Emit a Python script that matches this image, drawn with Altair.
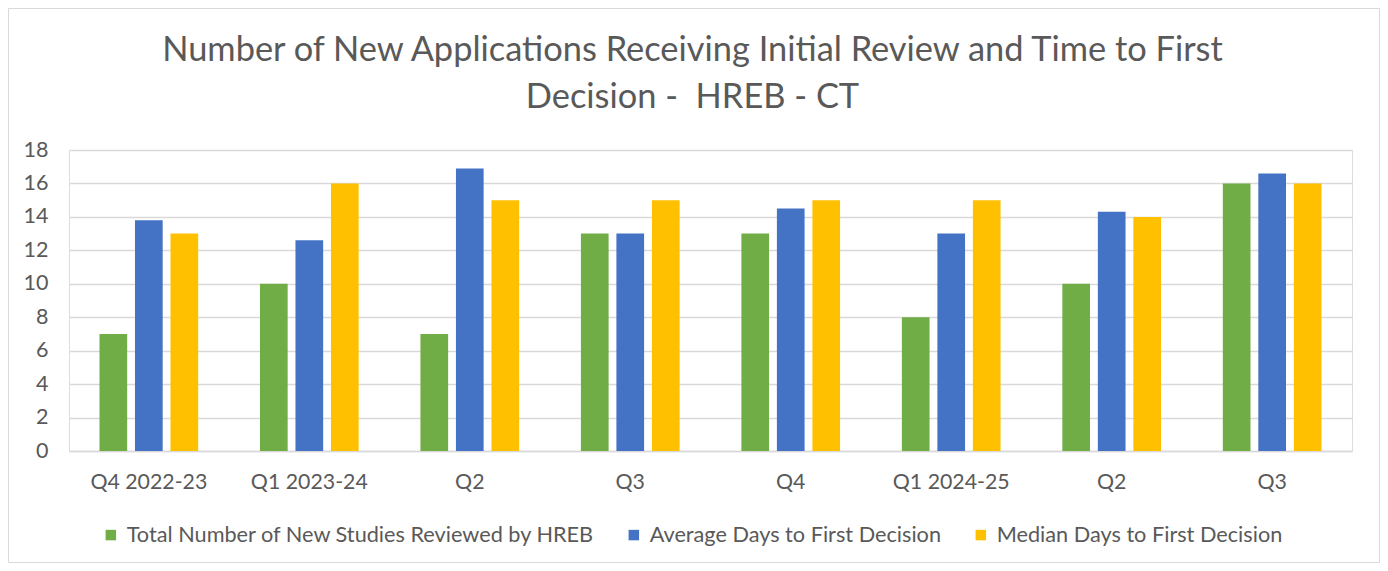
import altair as alt
import pandas as pd

categories = ["Q4 2022-23", "Q1 2023-24", "Q2", "Q3", "Q4", "Q1 2024-25", "Q2 ", "Q3 "]
series_names = [
    "Total Number of New Studies Reviewed by HREB",
    "Average Days to First Decision",
    "Median Days to First Decision",
]
total_reviewed = [7, 10, 7, 13, 13, 8, 10, 16]
average_days = [13.8, 12.6, 16.9, 13, 14.5, 13, 14.3, 16.6]
median_days = [13, 16, 15, 15, 15, 15, 14, 16]
colors = ["#70AD47", "#4472C4", "#FFC000"]
y_ticks = [0, 2, 4, 6, 8, 10, 12, 14, 16, 18]

rows = []
for s, vals in zip(series_names, [total_reviewed, average_days, median_days]):
    for c, v in zip(categories, vals):
        rows.append({"Quarter": c, "Series": s, "Value": v})
df = pd.DataFrame(rows)

FONT = "Lato"
GREY = "#595959"
W, H = 1283, 301

bars = alt.Chart(df).mark_bar().encode(
    x=alt.X("Quarter:N", sort=categories,
            scale=alt.Scale(paddingInner=0.385, paddingOuter=0.19),
            axis=alt.Axis(title=None, labelAngle=0, ticks=False, labelPadding=20,
                          domainColor="#d9d9d9", domainWidth=1.5,
                          labelFontSize=21.3, labelColor=GREY, labelFont=FONT,
                          labelExpr="trim(datum.label)")),
    xOffset=alt.XOffset("Series:N", sort=series_names,
                        scale=alt.Scale(paddingInner=0.22, paddingOuter=0)),
    y=alt.Y("Value:Q", scale=alt.Scale(domain=[0, 18], nice=False),
            axis=alt.Axis(title=None, values=y_ticks, ticks=False, domain=False,
                          labelPadding=21, gridColor="#d9d9d9", gridWidth=1.5,
                          labelFontSize=21.5, labelColor=GREY, labelFont=FONT)),
    color=alt.Color("Series:N", sort=series_names,
                    scale=alt.Scale(domain=series_names, range=colors),
                    legend=alt.Legend(title=None, orient="none", direction="horizontal",
                                      legendX=31, legendY=374, symbolType="square",
                                      symbolSize=110, symbolStrokeWidth=0,
                                      labelFontSize=21.7, labelColor=GREY, labelFont=FONT,
                                      labelOffset=5, columnPadding=28, labelLimit=600)),
)

border = alt.Chart(pd.DataFrame({"a": [0]})).mark_rect(
    fill=None, stroke="#d9d9d9", strokeWidth=1
).encode(x=alt.value(-60.5), x2=alt.value(W + 27.5), y=alt.value(-141.5), y2=alt.value(H + 111.5))

chart = alt.layer(border, bars).properties(
    width=W, height=H,
    autosize=alt.AutoSizeParams(type="none"),
    padding={"left": 61, "top": 142, "right": 28, "bottom": 112},
    title=alt.TitleParams(
        ["Number of New Applications Receiving Initial Review and Time to First",
         "Decision -\u00a0 HREB - CT"],
        anchor="middle", dx=-18, offset=0, dy=107, fontSize=34.4, lineHeight=47,
        font=FONT, fontWeight="normal", color=GREY),
).configure_view(stroke=None).configure(background="white")

chart.save("out.html", embed_options={"renderer": "svg", "actions": False})
